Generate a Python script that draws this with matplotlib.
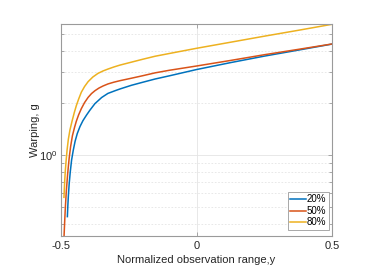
import matplotlib
matplotlib.use("Agg")
import matplotlib.pyplot as plt
from matplotlib.ticker import LogLocator, NullFormatter, FixedLocator

plt.rcParams['font.family'] = ['Liberation Sans', 'DejaVu Sans']

# warping curves (x = normalized observation range, g = warping)
x20 = [-0.4765, -0.475, -0.473, -0.470, -0.466, -0.461, -0.455, -0.448, -0.440, -0.430,
       -0.419, -0.406, -0.394, -0.375, -0.350, -0.327, -0.300, -0.282, -0.240, -0.200,
       -0.153, -0.100, 0.000, 0.125, 0.250, 0.375, 0.500]
g20 = [0.44, 0.50, 0.575, 0.676, 0.794, 0.933, 1.06, 1.20, 1.33, 1.46,
       1.58, 1.70, 1.81, 1.98, 2.15, 2.27, 2.355, 2.41, 2.53, 2.63,
       2.75, 2.87, 3.12, 3.42, 3.73, 4.04, 4.38]

x50 = [-0.491, -0.4885, -0.486, -0.4835, -0.480, -0.4755, -0.470, -0.4645, -0.458, -0.450,
       -0.4435, -0.435, -0.425, -0.413, -0.400, -0.3875, -0.3745, -0.360, -0.345, -0.3266,
       -0.305, -0.2823, -0.240, -0.200, -0.153, -0.100, 0.000, 0.125, 0.250, 0.375, 0.500]
g50 = [0.28, 0.347, 0.427, 0.513, 0.63, 0.776, 0.955, 1.12, 1.29, 1.445,
       1.567, 1.706, 1.853, 2.01, 2.153, 2.265, 2.355, 2.438, 2.506, 2.576,
       2.636, 2.69, 2.78, 2.87, 2.985, 3.09, 3.27, 3.52, 3.80, 4.08, 4.385]

x80 = [-0.489, -0.4875, -0.486, -0.484, -0.481, -0.4775, -0.473, -0.467, -0.459, -0.451,
       -0.4435, -0.435, -0.425, -0.413, -0.400, -0.3825, -0.3635, -0.345, -0.3266, -0.305,
       -0.2823, -0.240, -0.200, -0.153, -0.100, 0.000, 0.125, 0.250, 0.375, 0.500]
g80 = [0.569, 0.646, 0.724, 0.813, 0.933, 1.072, 1.23, 1.396, 1.574, 1.758,
       1.928, 2.104, 2.307, 2.489, 2.655, 2.825, 2.965, 3.062, 3.141, 3.228,
       3.311, 3.443, 3.573, 3.724, 3.864, 4.14, 4.487, 4.864, 5.26, 5.70]

labels = ['20%', '50%', '80%']
colors = ['#0072BD', '#D95319', '#EDB120']

fig = plt.figure(figsize=(3.82, 2.70), dpi=100)
ax = fig.add_axes([0.1597, 0.126, 0.7094, 0.785])

for xs, gs, lab, c in zip([x20, x50, x80], [g20, g50, g80], labels, colors):
    ax.plot(xs, gs, color=c, lw=1.1, label=lab)

ax.set_yscale('log')
ax.set_xlim(-0.5, 0.5)
ax.set_ylim(0.34, 5.72)
ax.set_xticks([-0.5, 0, 0.5])
ax.set_xticklabels(['-0.5', '0', '0.5'])
ax.yaxis.set_major_locator(FixedLocator([1.0]))
ax.yaxis.set_minor_locator(LogLocator(base=10, subs=[2, 3, 4, 5, 6, 7, 8, 9]))
ax.yaxis.set_minor_formatter(NullFormatter())

ax.grid(True, which='major', color='#e4e4e4', lw=0.6)
ax.grid(True, which='minor', axis='y', color='#e4e4e4', lw=0.6, ls=(0, (2, 2)))

for s in ax.spines.values():
    s.set_color('#9a9a9a')
    s.set_linewidth(0.8)
ax.tick_params(which='both', direction='in', top=True, right=True,
               color='#9a9a9a', labelsize=8, labelcolor='#262626', width=0.6)
ax.tick_params(which='major', length=3)
ax.tick_params(which='minor', length=2)
ax.tick_params(axis='y', which='major', pad=2.5)

ax.set_xlabel('Normalized observation range,y', fontsize=8, color='#262626', labelpad=3)
ax.set_ylabel('Warping, g', fontsize=8, color='#262626')
ax.yaxis.set_label_coords(-0.078, 0.5)

leg = ax.legend(loc='lower right', bbox_to_anchor=(0.995, 0.02), fontsize=7,
                fancybox=False, framealpha=1, edgecolor='#9a9a9a',
                handlelength=1.6, handletextpad=0.1, labelspacing=0.15,
                borderpad=0.25, borderaxespad=0.2)
leg.get_frame().set_linewidth(0.6)

fig.savefig('out.png', dpi=100)
